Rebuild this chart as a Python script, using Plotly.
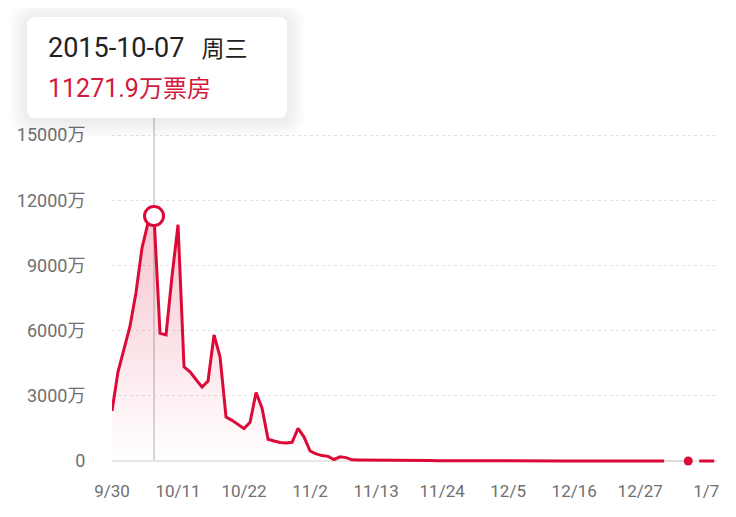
import pandas as pd
import plotly.graph_objects as go

# ---- data (万元 daily box office) ----
start_date = "2015-09-30"
box_office = [
    2300, 4100, 5150, 6200, 7750, 9800, 10950, 11271.9, 5870, 5800,
    8500, 10870, 4330, 4100, 3750, 3400, 3680, 5800, 4790, 2020,
    1870, 1680, 1490, 1780, 3150, 2430, 1000, 920, 850, 830,
    860, 1500, 1100, 460, 330, 250, 215, 70, 190, 155,
    55, 50, 45, 40, 30, 55, 50, 42, 36, 30,
    26, 23, 20, 18, 16, 14, 12, 11, 10, 9,
    8, 7, 6, 6, 5, 5, 4, 4, 4, 3,
    3, 3, 3, 2, 2, 2, 2, 2, 2, 1.5,
    1.5, 1.5, 1.5, 1, 1, 1, 1, 1, 1, 1,
    1, 1, 1,
]
today_date = ["2016-01-04"]
today_value = [0]
future_dates = ["2016-01-04", "2016-01-09"]
future_values = [0, 0]

x_tick_vals = ["2015-09-30", "2015-10-11", "2015-10-22", "2015-11-02", "2015-11-13",
               "2015-11-24", "2015-12-05", "2015-12-16", "2015-12-27", "2016-01-07"]
x_tick_text = ["9/30", "10/11", "10/22", "11/2", "11/13", "11/24", "12/5", "12/16", "12/27", "1/7"]
y_tick_vals = [0, 3000, 6000, 9000, 12000, 15000]
y_tick_text = ["0", "3000万", "6000万", "9000万", "12000万", "15000万"]

tooltip_date = "2015-10-07"
tooltip_weekday = "周三"

dates = pd.date_range(start_date, periods=len(box_office), freq="D")
peak_i = max(range(len(box_office)), key=lambda i: box_office[i])
peak_date = dates[peak_i]
peak_val = box_office[peak_i]

RED = "#dc0a37"
FONT = "Roboto, 'Noto Sans CJK SC', sans-serif"

fig = go.Figure()

fig.add_trace(go.Scatter(
    x=dates, y=box_office, mode="lines",
    line=dict(color=RED, width=3),
    fill="tozeroy",
    fillgradient=dict(type="vertical",
                      colorscale=[[0, "rgba(220,10,55,0.0)"], [1, "rgba(220,10,55,0.24)"]]),
    hoverinfo="skip", showlegend=False,
))
fig.add_trace(go.Scatter(
    x=[dates[-1], today_date[0]], y=[box_office[-1], today_value[0]], mode="lines",
    line=dict(color="#d8d8d8", width=1.5), hoverinfo="skip", showlegend=False,
))
fig.add_trace(go.Scatter(
    x=future_dates, y=future_values, mode="lines",
    line=dict(color=RED, width=3, dash="0px,11px,15px,200px"),
    hoverinfo="skip", showlegend=False,
))
fig.add_trace(go.Scatter(
    x=today_date, y=today_value, mode="markers", cliponaxis=False,
    marker=dict(color=RED, size=9), hoverinfo="skip", showlegend=False,
))
fig.add_trace(go.Scatter(
    x=[peak_date], y=[peak_val], mode="markers", cliponaxis=False,
    marker=dict(color="white", size=19, line=dict(color=RED, width=3)),
    hoverinfo="skip", showlegend=False,
))

OFF = 8  # page body margin
ZERO_PX, TOP_PX, BOT_PX = 461, 118, 465   # page pixel rows: zero line, plot top, plot bottom
PER_PX = 15000 / (461 - 135)              # 万 per pixel
W, H = 736 - OFF, 517 - OFF
L, R, T, B = 112 - OFF, 19, TOP_PX - OFF, 517 - BOT_PX
PW, PH = W - L - R, H - T - B
y_range = [-(BOT_PX - ZERO_PX) * PER_PX, (ZERO_PX - TOP_PX) * PER_PX]


def px2paper(px, py):
    return (px - OFF - L) / PW, (H - B - (py - OFF)) / PH


def rrect(x0, y0, x1, y1, r):
    def P(x, y):
        a, b = px2paper(x, y)
        return f"{a:.5f},{b:.5f}"
    return (f"M{P(x0 + r, y0)} L{P(x1 - r, y0)} Q{P(x1, y0)} {P(x1, y0 + r)} "
            f"L{P(x1, y1 - r)} Q{P(x1, y1)} {P(x1 - r, y1)} L{P(x0 + r, y1)} "
            f"Q{P(x0, y1)} {P(x0, y1 - r)} L{P(x0, y0 + r)} Q{P(x0, y0)} {P(x0 + r, y0)} Z")


shapes = []
shapes.append(dict(type="line", xref="x", yref="y", x0=peak_date, x1=peak_date,
                   y0=0, y1=y_range[1], line=dict(color="#b0b0b0", width=1), layer="below"))
bx0, by0, bx1, by1 = 27, 17, 287, 118
for e in range(18, 0, -2):
    shapes.append(dict(type="path", xref="paper", yref="paper",
                       path=rrect(bx0 - e, by0 - e + 2, bx1 + e, by1 + e + 2, 8 + e),
                       fillcolor="rgba(0,0,0,0.006)", line=dict(width=0), layer="above"))
shapes.append(dict(type="path", xref="paper", yref="paper",
                   path=rrect(bx0, by0, bx1, by1, 8),
                   fillcolor="white", line=dict(width=0), layer="above"))

ax, ay = px2paper(46, 48)
bx, by = px2paper(46, 88)
annotations = [
    dict(xref="paper", yref="paper", x=ax, y=ay, xanchor="left", yanchor="middle",
         text=f"<span style='font-size:27px'>{tooltip_date}</span>&nbsp;&nbsp;&nbsp;{tooltip_weekday}",
         showarrow=False, font=dict(family=FONT, size=23, color="#222222")),
    dict(xref="paper", yref="paper", x=bx, y=by, xanchor="left", yanchor="middle",
         text=f"<span style='font-size:25px'>{peak_val}</span>万票房",
         showarrow=False, font=dict(family=FONT, size=24, color="#d31a3e")),
]

fig.update_layout(
    width=W, height=H,
    margin=dict(l=L, r=R, t=T, b=B, pad=0, autoexpand=False),
    paper_bgcolor="white", plot_bgcolor="white",
    font=dict(family=FONT, color="#707070", size=18),
    shapes=shapes, annotations=annotations,
    xaxis=dict(
        type="date", range=["2015-09-30", "2016-01-08 19:00"], automargin=False,
        tickmode="array", tickvals=x_tick_vals, ticktext=x_tick_text,
        showgrid=False, zeroline=False, showline=False,
        ticks="outside", ticklen=11, tickcolor="rgba(0,0,0,0)",
        tickfont=dict(family=FONT, size=17, color="#707070"),
    ),
    yaxis=dict(
        range=y_range, automargin=False,
        tickmode="array", tickvals=y_tick_vals, ticktext=y_tick_text,
        showgrid=True, gridcolor="#e2e2e2", griddash="dot", gridwidth=1,
        zeroline=True, zerolinecolor="#e6e6e6", zerolinewidth=2, showline=False,
        ticks="outside", ticklen=22, tickcolor="rgba(0,0,0,0)",
        tickfont=dict(family=FONT, size=18, color="#707070"),
    ),
)

fig.write_html("out.html")
